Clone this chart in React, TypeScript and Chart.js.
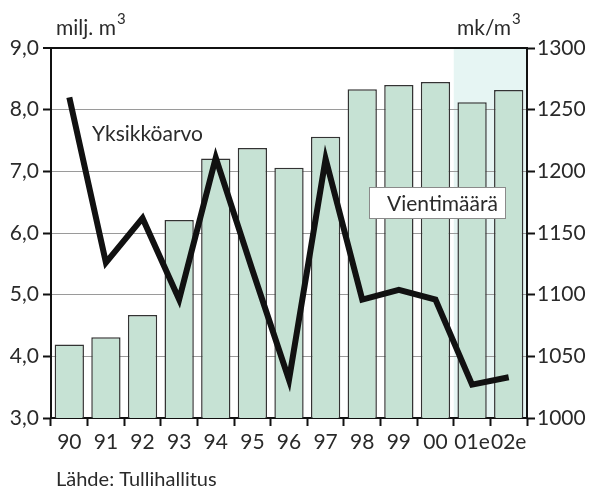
import React, { useEffect, useRef } from "react";
import { Chart, registerables } from "chart.js";

Chart.register(...registerables);

const categories = ["90", "91", "92", "93", "94", "95", "96", "97", "98", "99", "00", "01e", "02e"];
const volumes = [4.19, 4.31, 4.67, 6.21, 7.21, 7.38, 7.06, 7.56, 8.33, 8.4, 8.45, 8.12, 8.32];
const unitValues = [1260, 1126, 1162, 1096, 1211, 1120, 1031, 1210, 1096, 1104, 1096, 1027, 1033];
const forecastCategories = ["01e", "02e"];
const leftTitle = "milj. m";
const rightTitle = "mk/m";
const lineLabel = "Yksikköarvo";
const barLabel = "Vientimäärä";
const sourceText = "Lähde: Tullihallitus";

const FONT = "Lato";
const TEXT = "#2a2a2a";

const decorPlugin = {
  id: "decor",
  beforeDraw(chart: any) {
    const { ctx, chartArea, scales } = chart;
    const x = scales.x;
    const i0 = categories.indexOf(forecastCategories[0]);
    const i1 = categories.indexOf(forecastCategories[forecastCategories.length - 1]);
    const half = (x.getPixelForValue(1) - x.getPixelForValue(0)) / 2;
    const left = x.getPixelForValue(i0) - half;
    const right = x.getPixelForValue(i1) + half;
    ctx.save();
    ctx.fillStyle = "#e6f5f3";
    ctx.fillRect(left, chartArea.top, right - left, chartArea.bottom - chartArea.top);
    ctx.restore();
  },
  afterDatasetsDraw(chart: any) {
    const { ctx } = chart;
    ctx.save();
    ctx.fillStyle = TEXT;
    ctx.textBaseline = "alphabetic";
    ctx.textAlign = "left";
    // axis titles
    ctx.font = `21px ${FONT}`;
    const lw = ctx.measureText(leftTitle).width;
    ctx.fillText(leftTitle, 56, 35);
    ctx.font = `15px ${FONT}`;
    ctx.fillText("3", 56 + lw + 1, 24);
    ctx.font = `21px ${FONT}`;
    const rw = ctx.measureText(rightTitle).width;
    ctx.fillText(rightTitle, 457, 35);
    ctx.font = `15px ${FONT}`;
    ctx.fillText("3", 457 + rw + 1, 24);
    // line label
    ctx.font = `21px ${FONT}`;
    ctx.fillText(lineLabel, 92, 141);
    // bar label box
    ctx.fillStyle = "#ffffff";
    ctx.fillRect(369, 187, 137, 32);
    ctx.strokeStyle = "#8a8a8a";
    ctx.lineWidth = 1;
    ctx.strokeRect(369.5, 187.5, 136, 31);
    ctx.fillStyle = TEXT;
    ctx.font = `21px ${FONT}`;
    ctx.fillText(barLabel, 387, 211);
    // source
    ctx.font = `20px ${FONT}`;
    ctx.fillText(sourceText, 56, 486);
    ctx.restore();
  },
};

export default function App() {
  const ref = useRef<HTMLCanvasElement | null>(null);
  useEffect(() => {
    document.body.style.margin = "0";
    const canvas = ref.current;
    if (!canvas) return;
    const chart = new Chart(canvas, {
      type: "bar",
      data: {
        labels: categories,
        datasets: [
          {
            type: "line",
            label: lineLabel,
            data: unitValues,
            yAxisID: "y1",
            borderColor: "#111",
            borderWidth: 6,
            pointRadius: 0,
            tension: 0,
            borderJoinStyle: "miter",
            fill: false,
            order: 0,
          } as any,
          {
            type: "bar",
            label: barLabel,
            data: volumes,
            yAxisID: "y",
            backgroundColor: "#c6e2d4",
            borderColor: "#333",
            borderWidth: 1.5,
            barPercentage: 0.8,
            categoryPercentage: 1,
            order: 1,
          } as any,
        ],
      },
      options: {
        responsive: false,
        animation: false,
        devicePixelRatio: 1,
        layout: { padding: { top: 48, left: 0, right: 0, bottom: 0 } },
        plugins: { legend: { display: false }, tooltip: { enabled: false } },
        scales: {
          x: {
            offset: true,
            grid: {
              offset: true,
              drawOnChartArea: false,
              tickLength: 8,
              tickColor: "#111",
              tickWidth: 2,
            },
            border: { display: true, color: "#111", width: 2 },
            ticks: {
              color: TEXT,
              font: { family: FONT, size: 21 },
              padding: 4,
              maxRotation: 0,
              autoSkip: false,
            },
            afterFit(scale: any) {
              scale.height = 79;
            },
          },
          y: {
            position: "left",
            min: 3,
            max: 9,
            ticks: {
              stepSize: 1,
              color: TEXT,
              font: { family: FONT, size: 21 },
              padding: 4,
              callback: (v: any) => Number(v).toFixed(1).replace(".", ","),
            },
            grid: {
              color: (c: any) => (c.tick && c.tick.value === 9 ? "#111" : "#9a9a9a"),
              lineWidth: (c: any) => (c.tick && c.tick.value === 9 ? 2 : 1),
              tickColor: "#111",
              tickWidth: 2,
              tickLength: 8,
            },
            border: { display: true, color: "#111", width: 2 },
            afterFit(scale: any) {
              scale.width = 51;
            },
          },
          y1: {
            position: "right",
            min: 1000,
            max: 1300,
            ticks: {
              stepSize: 50,
              color: TEXT,
              font: { family: FONT, size: 21 },
              padding: 2,
              callback: (v: any) => String(Math.round(Number(v))),
            },
            grid: {
              drawOnChartArea: false,
              tickColor: "#111",
              tickWidth: 2,
              tickLength: 8,
            },
            border: { display: true, color: "#111", width: 2 },
            afterFit(scale: any) {
              scale.width = 64;
            },
          },
        },
      },
      plugins: [decorPlugin],
    });
    return () => chart.destroy();
  }, []);
  return <canvas ref={ref} width={591} height={497} style={{ display: "block" }} />;
}
